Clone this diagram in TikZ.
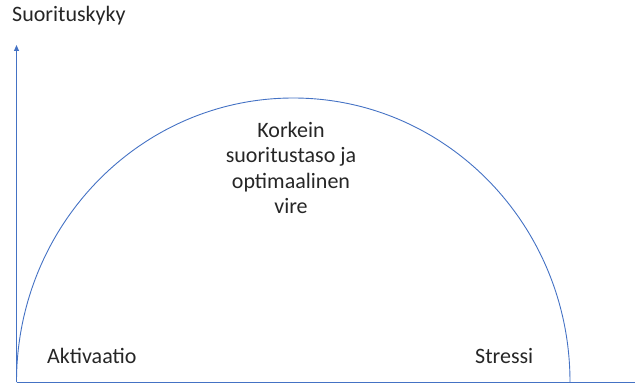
\documentclass[tikz,border=0pt]{standalone}
\usepackage{fontspec}
\setmainfont{Carlito}
\usetikzlibrary{arrows.meta}
\definecolor{officeblue}{HTML}{4472C4}
\begin{document}
\begin{tikzpicture}[x=1pt,y=-1pt,
  axis/.style={draw=officeblue, line width=0.9pt},
  lbl/.style={font=\fontsize{22}{25.5}\selectfont, text=black!85, inner sep=0pt},
  curve/.style={draw=officeblue, line width=0.9pt}]
\useasboundingbox (0,0) rectangle (635,385);
\coordinate (o) at (16.5,382);
\coordinate (ytop) at (16.5,45);
\coordinate (xend) at (635,382);
\draw[axis, -{Triangle[length=6pt,width=5pt]}] (o) -- (ytop);
\draw[axis] (o) -- (xend);
\draw[curve] (o) arc[start angle=180, end angle=360, x radius=276.75, y radius=284];
\node[lbl, anchor=base west] (ylab) at (12,22) {Suorituskyky};
\node[lbl, anchor=base west] (akt) at (47,363) {Aktivaatio};
\node[lbl, anchor=base west] (str) at (475,363) {Stressi};
\node[lbl, align=center, anchor=north] (top) at (291,122) {Korkein\\suoritustaso ja\\optimaalinen\\vire};
\end{tikzpicture}
\end{document}
